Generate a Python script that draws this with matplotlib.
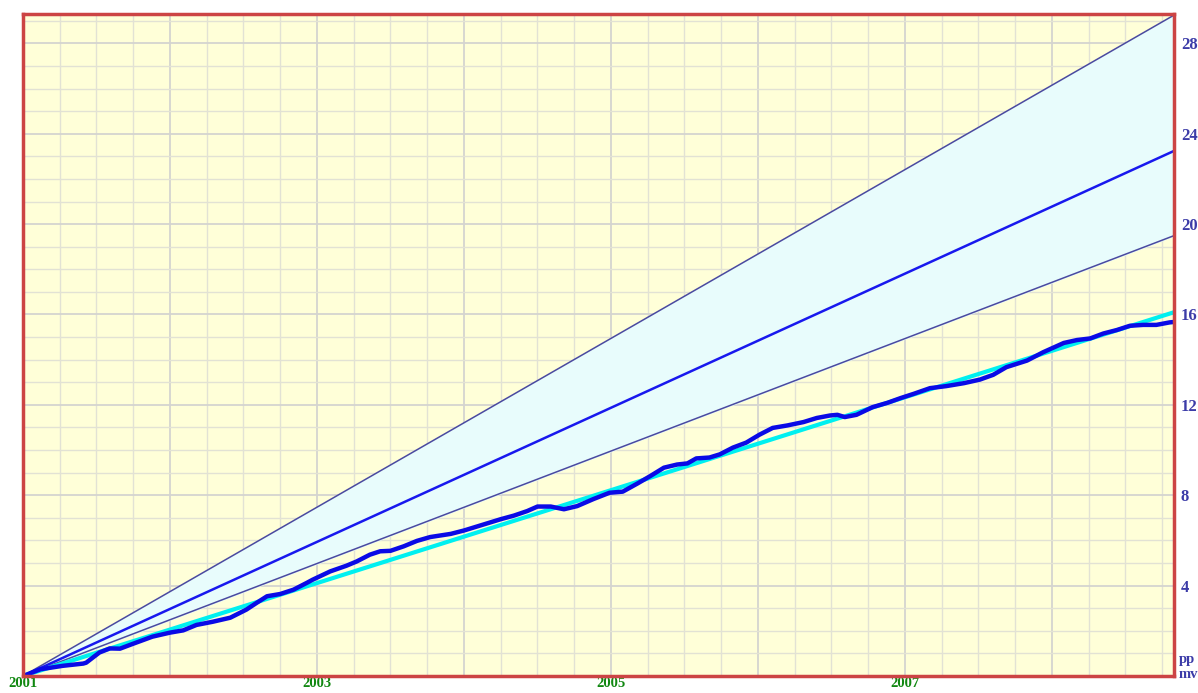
import numpy as np
import matplotlib
matplotlib.use("Agg")
import matplotlib.pyplot as plt
from matplotlib.ticker import MultipleLocator, FuncFormatter

# datos (anio fraccional, valor)
anios = [2001.00, 2001.12, 2001.27, 2001.41, 2001.43, 2001.52, 2001.59, 2001.66,
         2001.75, 2001.88, 2002.00, 2002.09, 2002.18, 2002.29, 2002.41, 2002.52,
         2002.59, 2002.66, 2002.75, 2002.84, 2002.93, 2002.97, 2003.09, 2003.20,
         2003.27, 2003.36, 2003.43, 2003.50, 2003.59, 2003.68, 2003.77, 2003.91,
         2004.00, 2004.11, 2004.25, 2004.34, 2004.43, 2004.50, 2004.59, 2004.68,
         2004.77, 2004.88, 2004.99, 2005.08, 2005.18, 2005.27, 2005.36, 2005.45,
         2005.52, 2005.58, 2005.67, 2005.74, 2005.83, 2005.92, 2006.01, 2006.10,
         2006.20, 2006.31, 2006.40, 2006.49, 2006.54, 2006.59, 2006.67, 2006.78,
         2006.88, 2006.97, 2007.06, 2007.17, 2007.28, 2007.40, 2007.51, 2007.60,
         2007.69, 2007.83, 2007.94, 2008.08, 2008.17, 2008.26, 2008.35, 2008.44,
         2008.53, 2008.62, 2008.71, 2008.80, 2008.83]
real = [0.00, 0.30, 0.45, 0.55, 0.59, 1.04, 1.22, 1.21,
        1.43, 1.74, 1.92, 2.02, 2.26, 2.40, 2.58, 2.94,
        3.24, 3.53, 3.63, 3.82, 4.12, 4.26, 4.63, 4.88,
        5.07, 5.37, 5.52, 5.54, 5.74, 5.98, 6.15, 6.29,
        6.44, 6.66, 6.94, 7.10, 7.30, 7.50, 7.50, 7.38,
        7.52, 7.83, 8.11, 8.16, 8.52, 8.86, 9.22, 9.36,
        9.41, 9.63, 9.67, 9.81, 10.11, 10.33, 10.68, 10.98,
        11.09, 11.24, 11.42, 11.53, 11.56, 11.46, 11.56, 11.90,
        12.09, 12.30, 12.49, 12.74, 12.83, 12.96, 13.12, 13.33,
        13.67, 13.96, 14.33, 14.74, 14.87, 14.94, 15.16, 15.31,
        15.50, 15.54, 15.54, 15.65, 15.67]

# rectas desde el origen: (inicio, final)
rango_x = [2001.0, 2008.83]
recta_alta = [0.0, 29.25]
recta_media = [0.0, 23.24]
recta_baja = [0.0, 19.49]
recta_tend = [0.0, 16.1]

fondo = "#ffffd8"
rojo = "#cc4444"
azul_txt = "#3c3ca8"
verde_txt = "#118811"

fig = plt.figure(figsize=(11.98, 6.93), dpi=100)
ax = fig.add_axes([23 / 1198, 17 / 693, 1151 / 1198, 662 / 693])
ax.set_facecolor(fondo)

ax.fill_between(rango_x, recta_baja, recta_alta, color="#e8fcfc", zorder=1)
ax.plot(rango_x, recta_alta, color="#4a4aa0", lw=1.1, zorder=3)
ax.plot(rango_x, recta_baja, color="#4a4aa0", lw=1.1, zorder=3)
ax.plot(rango_x, recta_media, color="#1818ee", lw=1.8, zorder=3)
ax.plot(rango_x, recta_tend, color="#00f0f0", lw=3.0, zorder=4)
ax.plot(anios, real, color="#0a0ae6", lw=3.2, zorder=5, solid_joinstyle="round")

ax.set_xlim(rango_x)
ax.set_ylim(0, 29.3)

ax.xaxis.set_major_locator(MultipleLocator(1))
ax.xaxis.set_minor_locator(MultipleLocator(0.25))
ax.yaxis.set_major_locator(MultipleLocator(4))
ax.yaxis.set_minor_locator(MultipleLocator(1))
ax.grid(which="minor", color="#e2e2d4", lw=1.0, zorder=0)
ax.grid(which="major", color="#d4d4d0", lw=1.3, zorder=0)
ax.set_axisbelow(True)

ax.xaxis.set_major_formatter(FuncFormatter(
    lambda v, p: "%d" % round(v) if round(v) % 2 == 1 and round(v) < 2009 else ""))
ax.yaxis.set_major_formatter(FuncFormatter(
    lambda v, p: "%d" % v if 0 < v < 29 else ""))
ax.yaxis.tick_right()
ax.tick_params(which="both", length=0)
ax.tick_params(axis="x", pad=1, labelcolor=verde_txt, labelsize=10.5)
ax.tick_params(axis="y", pad=5, labelcolor=azul_txt, labelsize=12)
for t in ax.get_xticklabels() + ax.get_yticklabels():
    t.set_fontfamily("Liberation Serif")
    t.set_fontweight("bold")

for s in ax.spines.values():
    s.set_color(rojo)
    s.set_linewidth(2.5)
    s.set_zorder(6)

fig.text(1179 / 1198, 1 - 660 / 693, "pp", color=azul_txt, fontsize=10.5,
         fontweight="bold", family="Liberation Serif", va="center", ha="left")
fig.text(1179 / 1198, 1 - 675 / 693, "mv", color=azul_txt, fontsize=10.5,
         fontweight="bold", family="Liberation Serif", va="center", ha="left")

fig.savefig("out.png", dpi=100, facecolor="white")
